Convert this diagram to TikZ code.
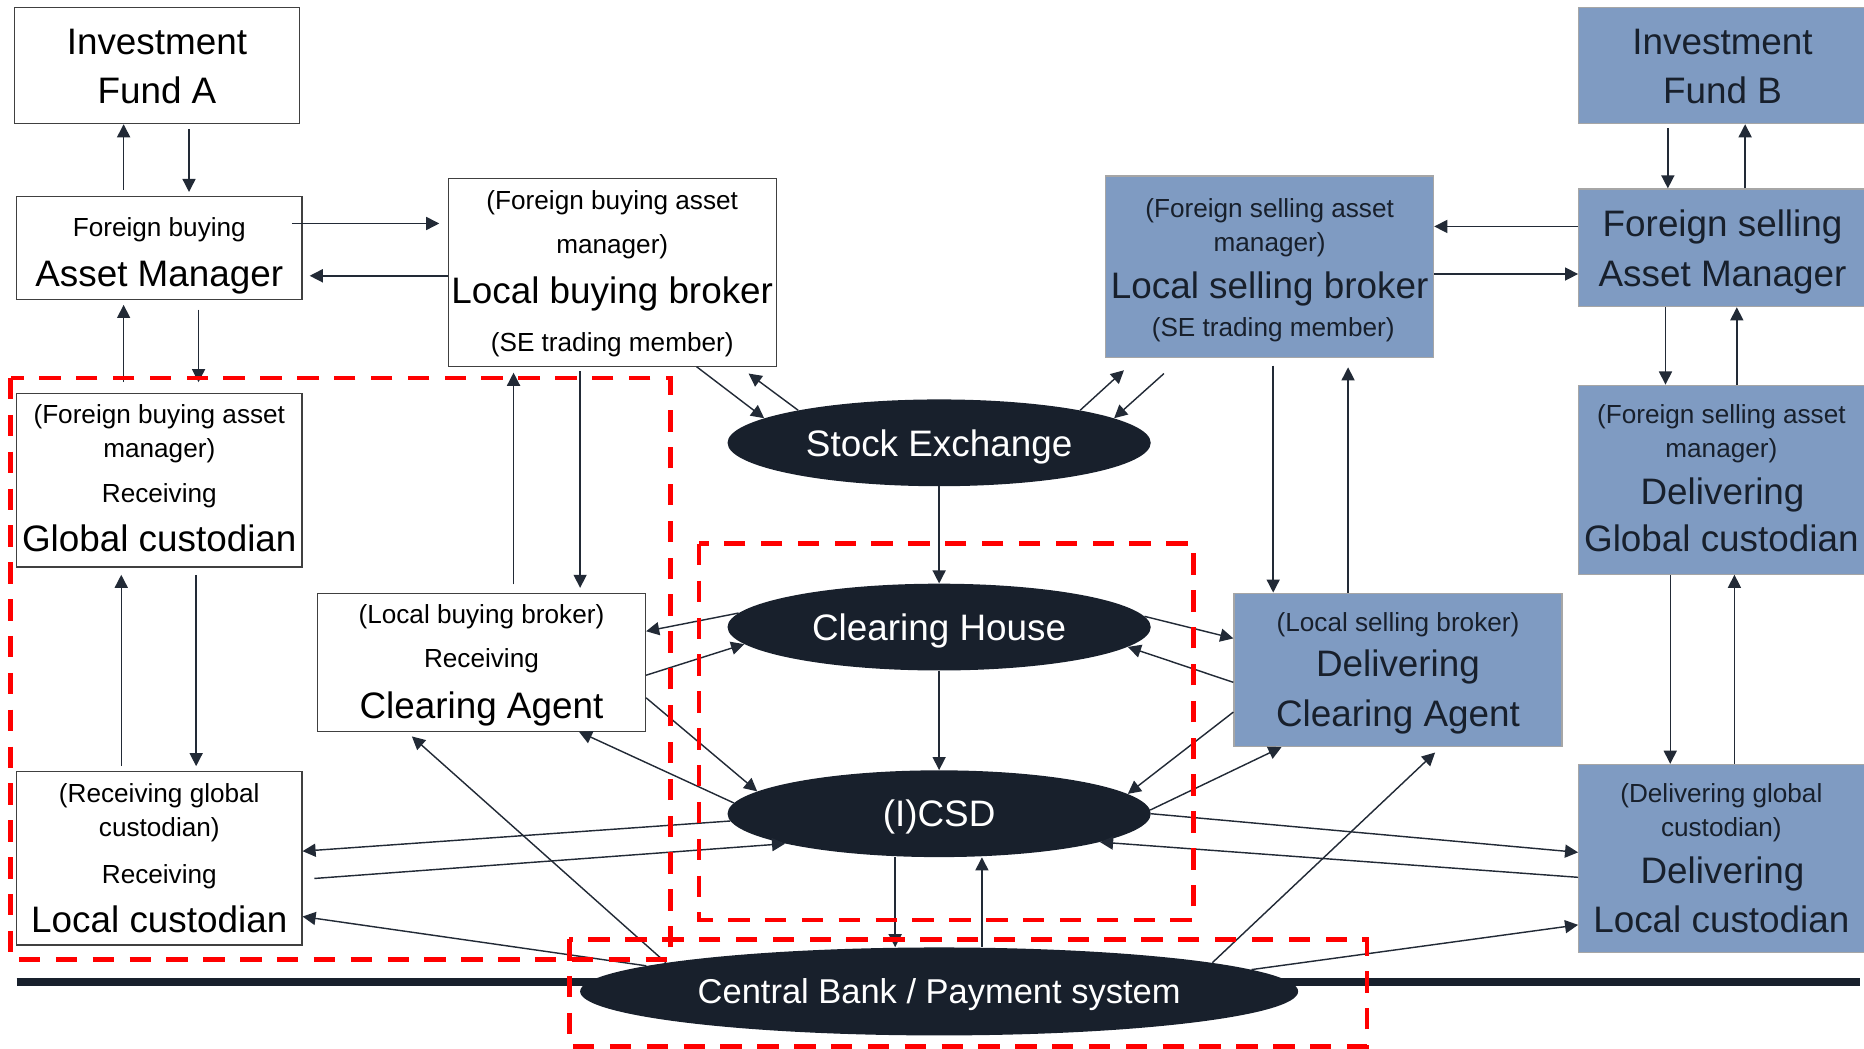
\documentclass[tikz,border=0pt]{standalone}
\usepackage{fontspec}
\setmainfont{Liberation Sans}
\usetikzlibrary{shapes.geometric,arrows.meta}
\definecolor{navy}{HTML}{18202C}
\definecolor{steel}{HTML}{7F9BC2}
\definecolor{edgegray}{HTML}{A6A6A6}
\definecolor{boxline}{HTML}{404040}
\definecolor{wire}{HTML}{222A36}
\newcommand\fbig{\fontsize{31}{31}\selectfont}
\newcommand\fsmall{\fontsize{22}{22}\selectfont}
\begin{document}
\begin{tikzpicture}[x=1pt,y=-1pt,
  wbox/.style={rectangle, draw=boxline, line width=1pt, fill=white, inner sep=0pt},
  bbox/.style={rectangle, draw=edgegray, line width=1pt, fill=steel, inner sep=0pt},
  hub/.style={ellipse, fill=navy, text=white, inner sep=0pt, font=\fbig,
              text height=22.2pt, text depth=0pt},
  big/.style={anchor=base, inner sep=0pt, font=\fbig, yshift=-11.1pt},
  small/.style={anchor=base, inner sep=0pt, font=\fsmall, yshift=-7.9pt},
  dk/.style={text=navy},
  arr/.style={draw=wire, line width=1.2pt, -{Triangle[length=11pt,width=11pt]}},
  zone/.style={draw=red, line width=4pt, dash pattern=on 18pt off 13pt},
]
\useasboundingbox (0,0) rectangle (1568,882);

% ground line under the payment system
\draw[navy, line width=6pt] (14,826) -- (1565,826);

% ---- buying side (white boxes) ----
\node[wbox, minimum width=240pt, minimum height=98pt]  (ifA) at (132,55) {};
\node[wbox, minimum width=240pt, minimum height=87pt]  (amA) at (134,208.5) {};
\node[wbox, minimum width=276pt, minimum height=158pt] (lbb) at (515,229) {};
\node[wbox, minimum width=240pt, minimum height=146pt] (gcA) at (134,404) {};
\node[wbox, minimum width=276pt, minimum height=116pt] (caA) at (405,557) {};
\node[wbox, minimum width=240pt, minimum height=146pt] (lcA) at (134,722) {};

% ---- selling side (blue boxes) ----
\node[bbox, minimum width=242pt, minimum height=98pt]  (ifB) at (1449,55) {};
\node[bbox, minimum width=242pt, minimum height=99pt]  (amB) at (1449,208.5) {};
\node[bbox, minimum width=276pt, minimum height=153pt] (lsb) at (1068,224.5) {};
\node[bbox, minimum width=242pt, minimum height=159pt] (gcB) at (1449,403.5) {};
\node[bbox, minimum width=276pt, minimum height=129pt] (caB) at (1176,563.5) {};
\node[bbox, minimum width=242pt, minimum height=158pt] (lcB) at (1449,722) {};

% ---- infrastructure ----
\node[hub, minimum width=356pt, minimum height=73pt] (se)   at (790,372.5) {Stock Exchange};
\node[hub, minimum width=356pt, minimum height=73pt] (ch)   at (790,527.5) {Clearing House};
\node[hub, minimum width=356pt, minimum height=73pt] (icsd) at (790,684.5) {(I)CSD};
\node[hub, minimum width=604pt, minimum height=74pt, font=\fontsize{29}{29}\selectfont,
      text height=20.8pt] (cb) at (790,834) {Central Bank / Payment system};

% ---- box texts, buying side ----
\node[big] (ifA1) at (132,35) {Investment};
\node[big] (ifA2) at (132,76) {Fund A};
\node[small] (amA1) at (134,191) {Foreign buying};
\node[big]   (amA2) at (134,230) {Asset Manager};
\node[small] (lbb1) at (515,168) {(Foreign buying asset};
\node[small] (lbb2) at (515,205) {manager)};
\node[big]   (lbb3) at (515,244) {Local buying broker};
\node[small] (lbb4) at (515,288) {(SE trading member)};
\node[small] (gcA1) at (134,348) {(Foreign buying asset};
\node[small] (gcA2) at (134,377) {manager)};
\node[small] (gcA3) at (134,415) {Receiving};
\node[big]   (gcA4) at (134,453) {Global custodian};
\node[small] (caA1) at (405,517) {(Local buying broker)};
\node[small] (caA2) at (405,554) {Receiving};
\node[big]   (caA3) at (405,593) {Clearing Agent};
\node[small] (lcA1) at (134,667) {(Receiving global};
\node[small] (lcA2) at (134,696) {custodian)};
\node[small] (lcA3) at (134,735) {Receiving};
\node[big]   (lcA4) at (134,773) {Local custodian};

% ---- box texts, selling side ----
\node[big, dk] (ifB1) at (1449,35) {Investment};
\node[big, dk] (ifB2) at (1449,76) {Fund B};
\node[big, dk] (amB1) at (1449,188) {Foreign selling};
\node[big, dk] (amB2) at (1449,230) {Asset Manager};
\node[small, dk] (lsb1) at (1068,175) {(Foreign selling asset};
\node[small, dk] (lsb2) at (1068,204) {manager)};
\node[big, dk]   (lsb3) at (1068,240) {Local selling broker};
\node[small, dk] (lsb4) at (1071,275) {(SE trading member)};
\node[small, dk] (gcB1) at (1448,348) {(Foreign selling asset};
\node[small, dk] (gcB2) at (1448,377) {manager)};
\node[big, dk]   (gcB3) at (1449,413) {Delivering};
\node[big, dk]   (gcB4) at (1448,453) {Global custodian};
\node[small, dk] (caB1) at (1176,523) {(Local selling broker)};
\node[big, dk]   (caB2) at (1176,558) {Delivering};
\node[big, dk]   (caB3) at (1176,600) {Clearing Agent};
\node[small, dk] (lcB1) at (1448,667) {(Delivering global};
\node[small, dk] (lcB2) at (1448,696) {custodian)};
\node[big, dk]   (lcB3) at (1449,732) {Delivering};
\node[big, dk]   (lcB4) at (1448,773) {Local custodian};

% ---- flows, buying side ----
\draw[arr, shorten <=5pt] (104,0 |- amA.north) -- (104,0 |- ifA.south);
\draw[arr, shorten <=4pt, shorten >=3pt] (159,0 |- ifA.south) -- (159,0 |- amA.north);
\draw[arr, shorten <=-9pt, shorten >=7pt] (amA.east |- 0,188) -- (lbb.west |- 0,188);
\draw[arr, shorten >=6pt] (lbb.west |- 0,232) -- (amA.east |- 0,232);
\draw[arr, shorten <=9pt, shorten >=4pt] (104,0 |- gcA.north) -- (104,0 |- amA.south);
\draw[arr, shorten <=8pt, shorten >=9pt] (167,0 |- amA.south) -- (167,0 |- gcA.north);
\draw[arr, shorten <=4pt, shorten >=6pt] (102,0 |- lcA.north) -- (102,0 |- gcA.south);
\draw[arr, shorten <=6pt, shorten >=4pt] (165,0 |- gcA.south) -- (165,0 |- lcA.north);
\draw[arr, shorten <=7pt, shorten >=5pt] (432,0 |- caA.north) -- (432,0 |- lbb.south);
\draw[arr, shorten <=4pt, shorten >=4pt] (488,0 |- lbb.south) -- (488,0 |- caA.north);
\draw[arr] (586,0 |- lbb.south) -- (se.172.6);
\draw[arr, shorten >=9.6pt] (se.167.4) -- (622,0 |- lbb.south);

% ---- flows, selling side ----
\draw[arr, shorten >=14.8pt] (se.13.1) -- (956.4,0 |- lsb.south);
\draw[arr, shorten <=19.1pt] (993.3,0 |- lsb.south) -- (se.8.6);
\draw[arr, shorten <=3.5pt] (1403,0 |- ifB.south) -- (1403,0 |- amB.north);
\draw[arr] (1468,0 |- amB.north) -- (1468,0 |- ifB.south);
\draw[arr] (amB.west |- 0,190.5) -- (lsb.east |- 0,190.5);
\draw[arr] (lsb.east |- 0,230.5) -- (amB.west |- 0,230.5);
\draw[arr] (1401,0 |- amB.south) -- (1401,0 |- gcB.north);
\draw[arr] (1461,0 |- gcB.north) -- (1461,0 |- amB.south);
\draw[arr] (1405,0 |- gcB.south) -- (1405,0 |- lcB.north);
\draw[arr] (1459,0 |- lcB.north) -- (1459,0 |- gcB.south);
\draw[arr, shorten <=6pt] (1071,0 |- lsb.south) -- (1071,0 |- caB.north);
\draw[arr, shorten >=7.5pt] (1134,0 |- caB.north) -- (1134,0 |- lsb.south);

% ---- exchange, clearing and settlement ----
\draw[arr] (se.south) -- (ch.north);
\draw[arr] (ch.south) -- (icsd.north);
\draw[arr] (ch.176.2) -- (caA.east |- 0,531);
\draw[arr] (caA.east |- 0,568) -- (ch.185.8);
\draw[arr] (ch.3.8) -- (caB.west |- 0,537);
\draw[arr] (caB.west |- 0,574) -- (ch.-6.2);
\draw[arr] (caA.east |- 0,587) -- (icsd.173);
\draw[arr] (icsd.177.9) -- (487,0 |- caA.south);
\draw[arr] (caB.west |- 0,599) -- (icsd.6.6);
\draw[arr] (icsd.1.9) -- (1078,0 |- caB.south);
\draw[arr] (icsd.182) -- (lcA.east |- 0,716);
\draw[arr, shorten <=10pt] (lcA.east |- 0,739.7) -- (icsd.191.7);
\draw[arr] (icsd.-0.8) -- (lcB.west |- 0,717);
\draw[arr] (lcB.west |- 0,738) -- (icsd.-10.5);
\draw[arr] (753,0 |- icsd.south) -- (753,0 |- cb.north);
\draw[arr] (826,0 |- cb.north) -- (826,0 |- icsd.south);

% ---- payment system links ----
\draw[arr] (cb.175.5) -- (lcA.east |- 0,771);
\draw[arr, shorten >=6pt] (cb.174) -- (342,0 |- caA.south);
\draw[arr, shorten >=6.6pt] (cb.6.2) -- (1212,0 |- caB.south);
\draw[arr] (cb.4.4) -- (lcB.west |- 0,778);

% ---- dashed red groupings ----
\draw[zone] (9,318) rectangle (564,807);
\draw[zone] (588,457.5) rectangle (1004,774);
\draw[zone] (479,790) rectangle (1150,880);
\end{tikzpicture}
\end{document}
